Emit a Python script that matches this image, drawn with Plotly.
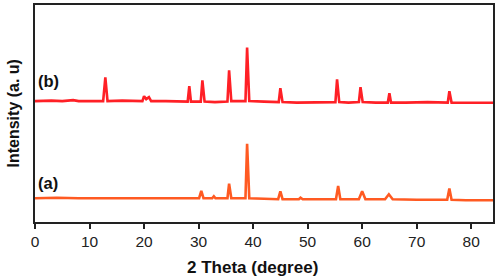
import plotly.graph_objects as go

# 2-theta positions (degree) and intensities (a.u.) for pattern (b)
theta_b = [0, 3, 5, 7, 8, 10, 12.5, 12.9, 13.3, 16, 19.7, 20.0, 20.4, 20.9, 21.3, 24, 28.0, 28.3, 28.6,
           30.4, 30.7, 31.1, 33, 35.3, 35.6, 36.0, 37.5, 38.6, 38.9, 39.3, 42, 44.7, 45.0, 45.4,
           48, 51, 55.1, 55.4, 55.8, 57.5, 59.4, 59.7, 60.1, 62.5, 64.7, 65.0, 65.3, 68, 72,
           75.7, 76.0, 76.4, 79, 81, 84]
int_b = [122, 122.5, 122, 123, 122, 122, 122, 146, 122, 122.5, 122, 127, 124, 126, 122, 122, 121.5, 137, 121.5,
         121.5, 143, 121.5, 121, 121.5, 153, 122, 122, 122, 176, 122, 121.5, 121, 135, 121,
         120.5, 121, 121, 144, 121, 120.5, 121, 136, 121, 120.5, 120.5, 130, 120.5, 120.5, 121,
         120.5, 132, 120.5, 120.5, 121, 120.3]

# 2-theta positions (degree) and intensities (a.u.) for pattern (a)
theta_a = [0, 4, 8, 12, 16, 20, 25, 30.1, 30.5, 30.9, 32.5, 32.8, 33.1, 35.3, 35.6, 36.0, 37.5, 38.6, 38.9, 39.3,
           42, 44.6, 45.0, 45.4, 48.4, 48.7, 49.1, 52, 55.2, 55.6, 56.0, 59.4, 60.0, 60.6,
           64.2, 64.9, 65.6, 70, 73, 75.6, 76.0, 76.4, 79, 84]
int_a = [24, 24.5, 24, 24, 23.5, 24, 24, 24, 31.5, 24, 24, 26, 24, 24, 38.7, 24, 24, 24, 79, 24,
         23.5, 23, 31, 23, 23, 24.5, 23, 23, 23, 36.3, 23, 23, 31, 23,
         23, 28, 23, 22.5, 22.5, 22.5, 33.7, 22.5, 22, 22]

x_ticks = [0, 10, 20, 30, 40, 50, 60, 70, 80]

FONT = "Arial, Liberation Sans, sans-serif"

fig = go.Figure()
fig.add_trace(go.Scatter(x=theta_b, y=int_b, mode="lines", name="(b)",
                         line=dict(color="#ff2026", width=2.6), showlegend=False))
fig.add_trace(go.Scatter(x=theta_a, y=int_a, mode="lines", name="(a)",
                         line=dict(color="#ff5a22", width=2.6), showlegend=False))

fig.update_layout(
    width=498, height=280,
    margin=dict(l=35, r=4, t=3, b=58),
    paper_bgcolor="white", plot_bgcolor="white",
    font=dict(family=FONT, color="#222"),
    xaxis=dict(range=[0, 84], tickvals=x_ticks, ticks="outside", ticklen=5, tickwidth=1.5,
               tickcolor="#222", showline=True, linecolor="#222", linewidth=1.5, mirror=True,
               showgrid=False, zeroline=False, tickfont=dict(size=15.5, family=FONT, color="#222")),
    yaxis=dict(range=[0, 219], showticklabels=False, ticks="", showline=True, linecolor="#222",
               linewidth=1.5, mirror=True, showgrid=False, zeroline=False),
    annotations=[
        dict(text="<b>2 Theta (degree)</b>", xref="paper", yref="paper", x=0.475, y=0,
             yshift=-45, showarrow=False, font=dict(size=17, family=FONT, color="#111"),
             xanchor="center", yanchor="middle"),
        dict(text="<b>Intensity (a. u)</b>", xref="paper", yref="paper", x=0, y=0.5,
             xshift=-22, textangle=-90, showarrow=False,
             font=dict(size=16, family=FONT, color="#111"), xanchor="center", yanchor="middle"),
        dict(text="<b>(b)</b>", x=0.2, y=142, xref="x", yref="y", showarrow=False,
             xanchor="left", yanchor="middle", font=dict(size=16.5, family=FONT, color="#111")),
        dict(text="<b>(a)</b>", x=0.2, y=39, xref="x", yref="y", showarrow=False,
             xanchor="left", yanchor="middle", font=dict(size=16.5, family=FONT, color="#111")),
    ],
)

fig.write_html("out.html", config={"displayModeBar": False},
               post_script="document.body.style.margin='0';document.body.style.padding='0';")
